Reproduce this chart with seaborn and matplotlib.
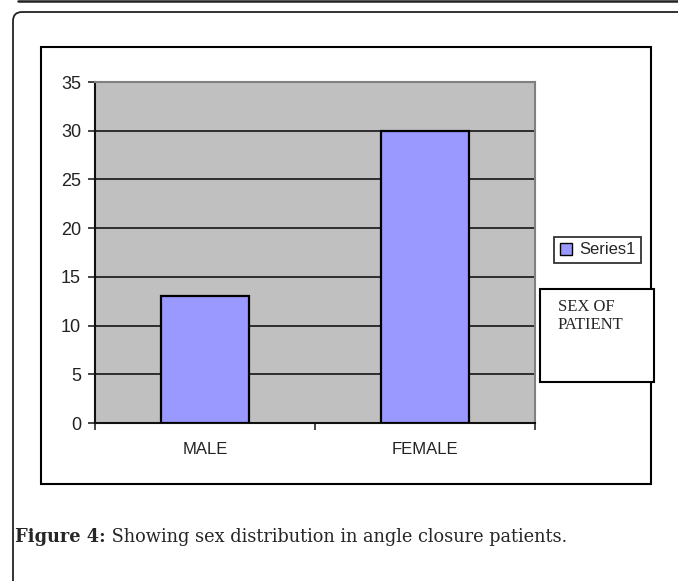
import matplotlib
matplotlib.use('Agg')
import matplotlib.pyplot as plt
import seaborn as sns
from matplotlib.patches import Rectangle, FancyBboxPatch
from matplotlib.lines import Line2D
from matplotlib.transforms import IdentityTransform

# --- Datos ---
categorias = ['MALE', 'FEMALE']
pacientes = [13, 30]
serie = 'Series1'
ticks_y = [0, 5, 10, 15, 20, 25, 30, 35]
caja_texto = 'SEX OF\nPATIENT'
pie_negrita = 'Figure 4:'
pie_texto = ' Showing sex distribution in angle closure patients.'

W, H = 678, 581
sns.set_style('white')
plt.rcParams['font.family'] = ['Liberation Sans', 'DejaVu Sans']

fig = plt.figure(figsize=(W / 100, H / 100), dpi=100)

def fx(px):
    return px / W

def fy(py):
    return 1 - py / H

# --- Marcos de la página ---
fig.add_artist(Line2D([18, W], [H - 1, H - 1], color='#222222', lw=1.8,
                      transform=IdentityTransform()))
fig.add_artist(FancyBboxPatch((13, -60), 720, (H - 12) + 60,
                              boxstyle='round,pad=0,rounding_size=9',
                              fc='none', ec='#222222', lw=1.3,
                              transform=IdentityTransform()))
fig.add_artist(Rectangle((fx(41), fy(484)), fx(651) - fx(41), fy(47) - fy(484),
                         fc='none', ec='black', lw=1.5, transform=fig.transFigure))

# --- Gráfico ---
ax = fig.add_axes([fx(95), fy(423), fx(535) - fx(95), fy(82) - fy(423)])
ax.set_facecolor('#C0C0C0')
sns.barplot(x=categorias, y=pacientes, color='#9999FF', saturation=1,
            edgecolor='black', linewidth=1.6, width=0.4, label=serie, ax=ax,
            zorder=3)
ax.set_xlim(-0.5, 1.5)
ax.set_ylim(0, 35)
ax.set_yticks(ticks_y)
ax.set_yticklabels([str(t) for t in ticks_y], fontsize=13, color='#222222')
for t in ticks_y[1:]:
    ax.axhline(t, color='#222222', lw=1.3, zorder=1)
ax.tick_params(axis='y', direction='out', length=5, width=1.2, pad=5, left=True)
ax.set_xticks([0, 1])
ax.set_xticklabels(categorias, fontsize=12, color='#222222')
ax.set_xticks([-0.5, 0.5, 1.5], minor=True)
ax.tick_params(axis='x', which='major', length=0, pad=14)
ax.tick_params(axis='x', which='minor', direction='out', length=5, width=1.2, bottom=True)
ax.set_xlabel('')
ax.set_ylabel('')
for lado in ['left', 'bottom']:
    ax.spines[lado].set_color('#111111')
    ax.spines[lado].set_linewidth(1.5)
for lado in ['top', 'right']:
    ax.spines[lado].set_color('#808080')
    ax.spines[lado].set_linewidth(1.5)

leg = ax.legend(loc='center', bbox_to_anchor=(fx(597.5), fy(250)),
                bbox_transform=fig.transFigure, fontsize=12, frameon=True,
                fancybox=False, handlelength=0.75, handleheight=0.75,
                handletextpad=0.4, borderpad=0.35, borderaxespad=0)
leg.get_frame().set_edgecolor('black')
leg.get_frame().set_linewidth(1.3)
for h in leg.legend_handles:
    h.set_linewidth(1.0)

# --- Caja de texto ---
fig.add_artist(Rectangle((fx(540), fy(382)), fx(654) - fx(540), fy(289) - fy(382),
                         fc='white', ec='black', lw=1.5, transform=fig.transFigure,
                         zorder=5))
fig.text(fx(558), fy(299), caja_texto, ha='left', va='top', fontsize=12,
         family='Liberation Serif', linespacing=1.15, zorder=6)

# --- Pie de figura ---
t1 = fig.text(fx(15), fy(542), pie_negrita, ha='left', va='baseline',
              fontsize=12.8, weight='bold', family='DejaVu Serif')
ax.annotate(pie_texto, xy=(1, 0), xycoords=t1, va='bottom', ha='left',
            fontsize=12.8, family='DejaVu Serif', annotation_clip=False)

fig.savefig('out.png', dpi=100)
